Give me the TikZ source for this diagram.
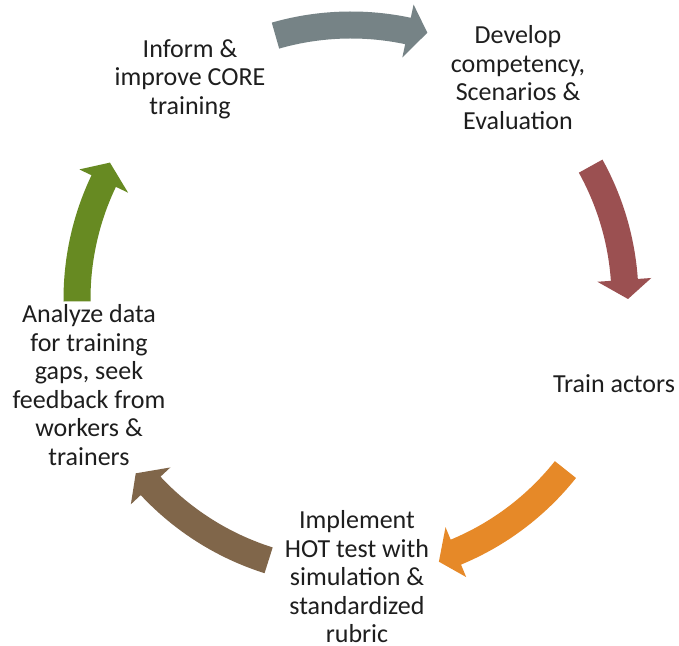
\documentclass[tikz,border=0pt]{standalone}
\usepackage{fontspec}
\setmainfont{Carlito}
\definecolor{agray}{RGB}{118,131,134}
\definecolor{ared}{RGB}{155,80,81}
\definecolor{aorange}{RGB}{230,137,40}
\definecolor{abrown}{RGB}{128,102,74}
\definecolor{agreen}{RGB}{103,138,34}
\definecolor{txt}{RGB}{30,30,30}
\newcommand\cycarrow[3]{%
  \pgfmathsetmacro\ah{#3+4}%
  \fill[#1] (#2:287.5) arc[start angle=#2, end angle=\ah, radius=287.5]
    -- (\ah:301) -- (#3:277) -- (\ah:247) -- (\ah:260.5)
    arc[start angle=\ah, end angle=#2, radius=260.5] -- cycle;}
\begin{document}
\begin{tikzpicture}[x=1pt,y=1pt,
  lbl/.style={align=center, font=\fontsize{26}{28.5}\selectfont, text=txt, inner sep=0pt}]
\useasboundingbox (0,0) rectangle (679,645);
\fill[white] (0,0) rectangle (679,645);
\begin{scope}[shift={(351,346)}]
  \cycarrow{agray}{106}{74}
  \cycarrow{ared}{29}{0}
  \cycarrow{aorange}{-38.5}{-71.5}
  \cycarrow{abrown}{-107.5}{-141}
  \cycarrow{agreen}{180.5}{150.5}
\end{scope}
\node[lbl] (inform) at (190,566) {Inform \&\\improve CORE\\training};
\node[lbl] (develop) at (518,567.5) {Develop\\competency,\\Scenarios \&\\Evaluation};
\node[lbl] (train) at (614,261) {Train actors};
\node[lbl] (implement) at (357,68) {Implement\\HOT test with\\simulation \&\\standardized\\rubric};
\node[lbl] (analyze) at (89,260) {Analyze data\\for training\\gaps, seek\\feedback from\\workers \&\\trainers};
\end{tikzpicture}
\end{document}
